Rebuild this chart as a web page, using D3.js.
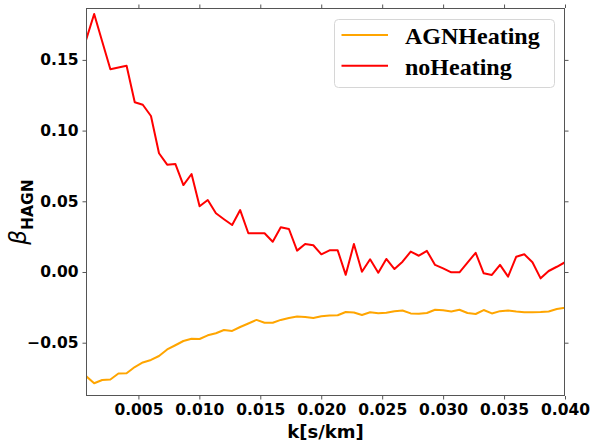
<!DOCTYPE html>
<html>
<head>
<meta charset="utf-8">
<script src="https://cdn.jsdelivr.net/npm/d3@7"></script>
<style>
  html, body { margin: 0; padding: 0; background: #fff; }
  svg { display: block; }
</style>
</head>
<body>
<svg id="chart" width="592" height="445"></svg>
<script>
// ---------- data ----------
const kValues = [0.00070, 0.00137, 0.00203, 0.00270, 0.00336, 0.00403, 0.00470, 0.00536, 0.00603, 0.00669,
  0.00736, 0.00803, 0.00869, 0.00936, 0.01002, 0.01069, 0.01136, 0.01202, 0.01269, 0.01335,
  0.01402, 0.01469, 0.01535, 0.01602, 0.01668, 0.01735, 0.01802, 0.01868, 0.01935, 0.02001,
  0.02068, 0.02135, 0.02201, 0.02268, 0.02334, 0.02401, 0.02468, 0.02534, 0.02601, 0.02667,
  0.02734, 0.02801, 0.02867, 0.02934, 0.03000, 0.03067, 0.03134, 0.03200, 0.03267, 0.03333,
  0.03400, 0.03467, 0.03533, 0.03600, 0.03666, 0.03733, 0.03800, 0.03866, 0.03933, 0.04000];

const agnHeating = [-0.0736, -0.0787, -0.0764, -0.0760, -0.0718, -0.0716, -0.0672, -0.0640, -0.0622, -0.0594,
  -0.0548, -0.0518, -0.0488, -0.0472, -0.0474, -0.0448, -0.0433, -0.0410, -0.0417, -0.0389,
  -0.0364, -0.0339, -0.0359, -0.0359, -0.0339, -0.0325, -0.0315, -0.0318, -0.0325, -0.0313,
  -0.0308, -0.0306, -0.0283, -0.0286, -0.0304, -0.0285, -0.0292, -0.0288, -0.0277, -0.0272,
  -0.0293, -0.0296, -0.0290, -0.0267, -0.0271, -0.0279, -0.0267, -0.0290, -0.0297, -0.0269,
  -0.0293, -0.0277, -0.0272, -0.0279, -0.0284, -0.0285, -0.0283, -0.0279, -0.0262, -0.0252];

const noHeating = [0.1640, 0.1825, 0.1630, 0.1434, 0.1446, 0.1459, 0.1200, 0.1183, 0.1103, 0.0840,
  0.0759, 0.0764, 0.0615, 0.0693, 0.0465, 0.0509, 0.0415, 0.0373, 0.0332, 0.0438,
  0.0274, 0.0274, 0.0274, 0.0214, 0.0316, 0.0304, 0.0151, 0.0198, 0.0189, 0.0125,
  0.0153, 0.0153, -0.0020, 0.0198, 0.0002, 0.0090, -0.0005, 0.0092, 0.0021, 0.0073,
  0.0144, 0.0115, 0.0149, 0.0050, 0.0026, -0.0002, -0.0002, 0.0066, 0.0136, -0.0009,
  -0.0021, 0.0050, -0.0033, 0.0108, 0.0125, 0.0069, -0.0045, 0.0007, 0.0037, 0.0069];

const seriesNames = ["AGNHeating", "noHeating"];
const seriesColors = ["#ffa500", "#ff0000"];
const xTicks = [0.005, 0.010, 0.015, 0.020, 0.025, 0.030, 0.035, 0.040];
const yTicks = [-0.05, 0.00, 0.05, 0.10, 0.15];
const xDomain = [0.0007, 0.040];
const yDomain = [-0.0877, 0.1867];

// ---------- layout ----------
const mLeft = 86, mRight = 565, mTop = 8, mBottom = 396;
const svg = d3.select("#chart");

const x = d3.scaleLinear().domain(xDomain).range([mLeft, mRight]);
const y = d3.scaleLinear().domain(yDomain).range([mBottom, mTop]);

const tickFont = "'DejaVu Sans', sans-serif";

// clip
svg.append("defs").append("clipPath").attr("id", "plotclip")
  .append("rect").attr("x", mLeft).attr("y", mTop).attr("width", mRight - mLeft).attr("height", mBottom - mTop);

// lines
const series = [agnHeating, noHeating];
const line = d3.line().x((d, i) => x(kValues[i])).y(d => y(d));
series.forEach((vals, si) => {
  svg.append("path")
    .datum(vals)
    .attr("clip-path", "url(#plotclip)")
    .attr("fill", "none")
    .attr("stroke", seriesColors[si])
    .attr("stroke-width", 2)
    .attr("stroke-linejoin", "round")
    .attr("stroke-linecap", "butt")
    .attr("d", line);
});

// axes
const spineColor = "#555";
function styleAxis(g) {
  g.select(".domain").remove();
  g.selectAll(".tick line").attr("stroke", spineColor).attr("stroke-width", 1);
  g.selectAll(".tick text")
    .attr("fill", "#000")
    .style("font-family", tickFont)
    .style("font-weight", "bold")
    .style("font-size", "15.5px");
}

svg.append("g").attr("transform", `translate(0,${mBottom})`)
  .call(d3.axisBottom(x).tickValues(xTicks).tickSize(3.5).tickPadding(4)
    .tickFormat(d => d3.format(".3f")(d)))
  .call(styleAxis);

svg.append("g").attr("transform", `translate(0,${mTop})`)
  .call(d3.axisTop(x).tickValues(xTicks).tickSize(3.5).tickFormat(""))
  .call(styleAxis);

svg.append("g").attr("transform", `translate(${mLeft},0)`)
  .call(d3.axisLeft(y).tickValues(yTicks).tickSize(3.5).tickPadding(4)
    .tickFormat(d => (d < 0 ? "\u2212" : "") + d3.format(".2f")(Math.abs(d))))
  .call(styleAxis);

svg.append("g").attr("transform", `translate(${mRight},0)`)
  .call(d3.axisRight(y).tickValues(yTicks).tickSize(3.5).tickFormat(""))
  .call(styleAxis);

// frame
svg.append("rect")
  .attr("x", mLeft + 0.5).attr("y", mTop + 0.5)
  .attr("width", mRight - mLeft - 1).attr("height", mBottom - mTop - 1)
  .attr("fill", "none").attr("stroke", spineColor).attr("stroke-width", 1);

// axis labels
svg.append("text")
  .attr("x", (mLeft + mRight) / 2).attr("y", 438)
  .attr("text-anchor", "middle")
  .style("font-family", tickFont).style("font-weight", "bold").style("font-size", "18px")
  .text("k[s/km]");

const ylab = svg.append("text")
  .attr("transform", `translate(26,212) rotate(-90)`)
  .attr("text-anchor", "middle")
  .style("font-family", tickFont);
ylab.append("tspan").style("font-style", "italic").style("font-size", "23px").text("\u03B2");
ylab.append("tspan").attr("dy", 7).style("font-weight", "bold").style("font-size", "15.5px").text("HAGN");

// legend
const lg = svg.append("g");
lg.append("rect")
  .attr("x", 334.5).attr("y", 19.5).attr("width", 220).attr("height", 68)
  .attr("rx", 4).attr("ry", 4)
  .attr("fill", "#fff").attr("fill-opacity", 0.8)
  .attr("stroke", "#d6d6d6").attr("stroke-width", 1);
seriesNames.forEach((name, i) => {
  const cy = 35 + i * 30.7;
  lg.append("line")
    .attr("x1", 341.5).attr("x2", 388).attr("y1", cy).attr("y2", cy)
    .attr("stroke", seriesColors[i]).attr("stroke-width", 2);
  lg.append("text")
    .attr("x", 405).attr("y", cy + 9)
    .style("font-family", "'Liberation Serif', serif")
    .style("font-weight", "bold").style("font-size", "24px")
    .attr("fill", "#000")
    .text(name);
});
</script>
</body>
</html>
